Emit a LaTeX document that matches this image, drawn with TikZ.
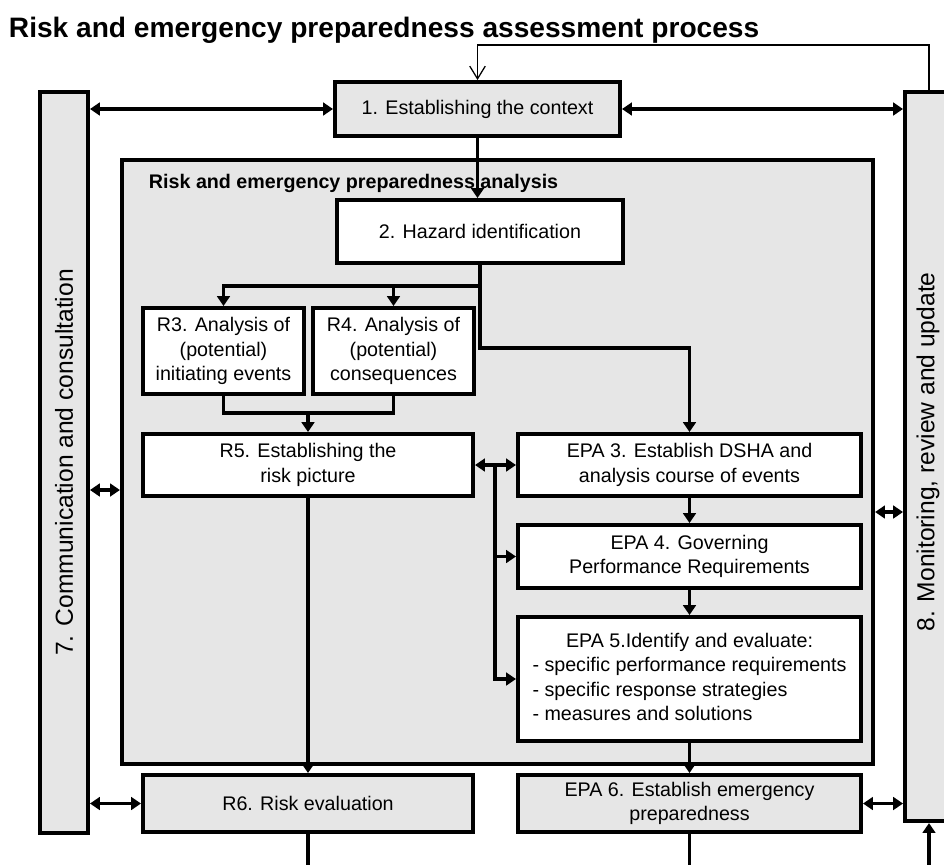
\documentclass[tikz,border=0pt]{standalone}
\usepackage{fontspec}
\setmainfont{Liberation Sans}
\usetikzlibrary{arrows.meta}
\definecolor{rpGrey}{RGB}{230,230,230}

\begin{document}
\begin{tikzpicture}[x=0.025cm, y=-0.025cm,
    >={Triangle[length=7pt,width=9pt]},
    box/.style={draw=black, line width=2.8pt, fill=white, inner sep=0pt,
      align=center, font=\fontsize{14}{17.4}\selectfont},
    greybox/.style={box, fill=rpGrey},
    link/.style={line width=2.4pt},
    flow/.style={link, ->},
    both/.style={link, <->},
    fb/.style={line width=0.9pt, -{Straight Barb[length=9pt,width=11pt]}},
    sidetext/.style={rotate=90, font=\fontsize{17.5}{20}\selectfont}]
  \useasboundingbox (0,0) rectangle (944,864);
  \fill[white] (0,0) rectangle (944,864);
  % frame boxes
  \node[greybox, minimum width=18.775cm, minimum height=15.1cm] (analysis) at (497.5,462) {};
  \node[greybox, minimum width=1.2cm, minimum height=18.525cm] (comm) at (64,462.5) {};
  \node[greybox, minimum width=1.2cm, minimum height=18.225cm] (mon) at (929,456.5) {};
  \node[sidetext] (commtext) at (comm.center) {7. Communication and consultation};
  \node[sidetext] (montext) at (928,452) {8. Monitoring, review and update};
  \node[font=\bfseries\fontsize{20}{24}\selectfont, anchor=base west] (title) at (4,37)
    {Risk and emergency preparedness assessment process};
  \node[font=\bfseries\fontsize{14}{17}\selectfont, anchor=base west] (antitle) at (144,188)
    {Risk and emergency preparedness analysis};
  % process steps
  \node[greybox, minimum width=7.125cm, minimum height=1.35cm] (ctx) at (477.5,109)
    {1. Establishing the context};
  \node[box, minimum width=7.15cm, minimum height=1.575cm] (haz) at (480,231.5)
    {2. Hazard identification};
  \node[box, minimum width=4.025cm, minimum height=2.15cm] (r3) at (223.5,351)
    {R3. Analysis of\\(potential)\\initiating events};
  \node[box, minimum width=4.025cm, minimum height=2.15cm] (r4) at (393.5,351)
    {R4. Analysis of\\(potential)\\consequences};
  \node[box, minimum width=8.25cm, minimum height=1.55cm] (r5) at (308,465)
    {R5. Establishing the\\risk picture};
  \node[box, minimum width=8.575cm, minimum height=1.55cm] (epa3) at (689.5,465)
    {EPA 3. Establish DSHA and\\analysis course of events};
  \node[box, minimum width=8.575cm, minimum height=1.575cm] (epa4) at (689.5,556.5)
    {EPA 4. Governing\\Performance Requirements};
  \node[box, minimum width=8.575cm, minimum height=3.1cm] (epa5) at (689.5,679)
    {\begin{tabular}{@{}l@{}}
      \multicolumn{1}{@{}c@{}}{EPA 5.Identify and evaluate:}\\
      - specific performance requirements\\
      - specific response strategies\\
      - measures and solutions
    \end{tabular}};
  \node[greybox, minimum width=8.25cm, minimum height=1.425cm] (r6) at (308,803.5)
    {R6. Risk evaluation};
  \node[greybox, minimum width=8.575cm, minimum height=1.425cm] (epa6) at (689.5,803.5)
    {EPA 6. Establish emergency\\preparedness};
  % helper levels
  \coordinate (fork) at (0,286);
  \coordinate (turn) at (0,348);
  \coordinate (merge) at (0,413);
  \coordinate (tap) at (495,465);
  \coordinate (cmid) at (0,490);
  \coordinate (mmid) at (0,512);
  \coordinate (foot) at (0,867);
  \coordinate (loop) at (0,45);
  % connectors
  \draw[flow] (ctx.south) -- (ctx.south |- haz.north);
  \draw[flow] (haz.south) -- (haz.south |- fork) -| (r3.north);
  \draw[flow] (haz.south |- fork) -| (r4.north);
  \draw[flow] (haz.south) -- (haz.south |- turn) -| (epa3.north);
  \draw[link] (r3.south) |- (merge -| r4.south) -- (r4.south);
  \draw[flow] (merge -| r5.north) -- (r5.north);
  \draw[both] (r5.east) -- (epa3.west);
  \draw[flow] (tap) |- (epa5.west);
  \draw[flow] (tap |- epa4.west) -- (epa4.west);
  \draw[flow] (epa3) -- (epa4);
  \draw[flow] (epa4) -- (epa5);
  \draw[flow] (epa5) -- (epa6);
  \draw[flow] (r5) -- (r6);
  \draw[both] (comm.east |- ctx.west) -- (ctx.west);
  \draw[both] (ctx.east) -- (mon.west |- ctx.east);
  \draw[both] (comm.east |- cmid) -- (analysis.west |- cmid);
  \draw[both] (analysis.east |- mmid) -- (mon.west |- mmid);
  \draw[both] (comm.east |- r6.west) -- (r6.west);
  \draw[both] (epa6.east) -- (mon.west |- epa6.east);
  \draw[link] (r6.south) -- (r6.south |- foot) -| (epa6.south);
  \draw[flow] (mon.south |- 0,890) -- (mon.south);
  \draw[fb] (mon.north) |- (ctx.north |- loop) -- (ctx.north);
\end{tikzpicture}
\end{document}
